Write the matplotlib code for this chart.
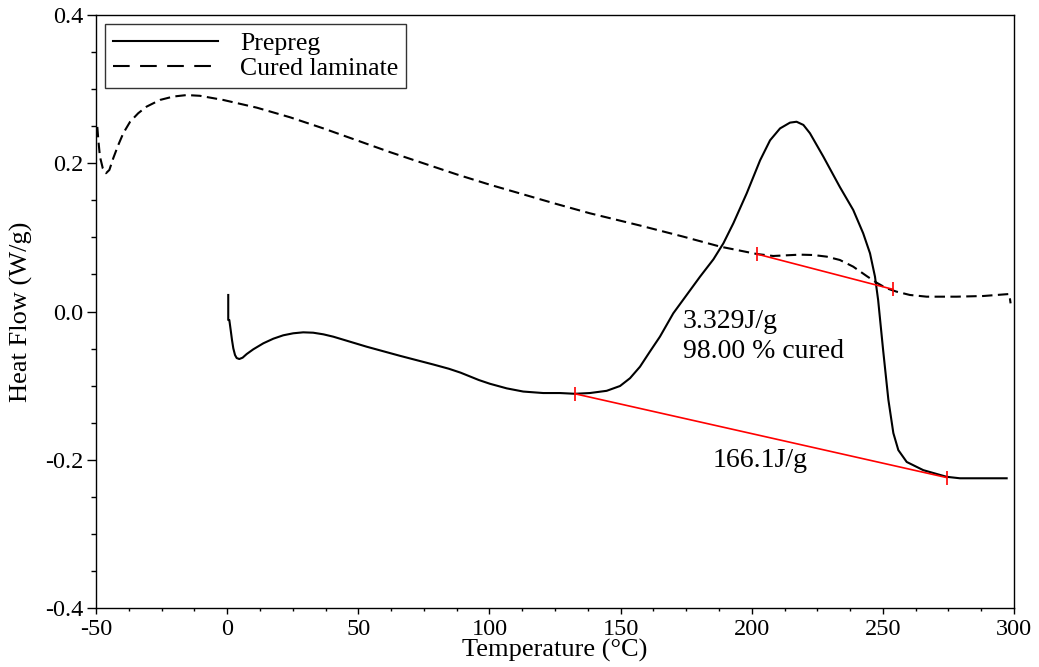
import matplotlib
matplotlib.use("Agg")
import matplotlib.pyplot as plt
from matplotlib.lines import Line2D
from matplotlib.ticker import MultipleLocator

plt.rcParams['font.family'] = ['Liberation Serif', 'DejaVu Serif']

# DSC traces: temperature (°C) and heat flow (W/g)
prepreg_T = [0.42, 0.42, 0.83, 1.35, 1.85, 2.35, 3.0, 3.64, 4.63, 5.9, 7.45, 9.97,
             13.8, 17.6, 21.4, 25.2, 29.0, 32.8, 36.7, 40.5, 53.2, 65.9, 78.6, 84.5,
             89.0, 92.5, 96.0, 100.2, 106.6, 112.9, 120.5, 126.9, 132.6, 138.3, 144.7,
             149.8, 153.6, 157.4, 161.2, 165.0, 170.1, 175.2, 180.3, 185.4, 189.2,
             193.0, 198.1, 203.2, 207.0, 210.8, 214.6, 217.1, 219.7, 222.2, 227.3,
             233.6, 238.7, 242.5, 245.1, 247.0, 248.2, 250.1, 252.1, 254.0, 255.9,
             259.1, 265.4, 274.3, 279.4, 297.2]
prepreg_HF = [0.0223, -0.0115, -0.0115, -0.025, -0.0385, -0.0497, -0.0587, -0.0628,
              -0.0641, -0.0623, -0.0574, -0.051, -0.0429, -0.0367, -0.0321, -0.0294,
              -0.0281, -0.0286, -0.0308, -0.034, -0.0475, -0.0598, -0.0715, -0.0772,
              -0.0825, -0.0875, -0.0925, -0.0975, -0.1037, -0.108, -0.110, -0.110,
              -0.111, -0.110, -0.107, -0.1005, -0.090, -0.0745, -0.054, -0.034, -0.0024,
              0.0223, 0.047, 0.0704, 0.092, 0.119, 0.1595, 0.204, 0.231, 0.247, 0.2548,
              0.256, 0.2517, 0.2405, 0.209, 0.168, 0.137, 0.1055, 0.0785, 0.047, 0.0155,
              -0.052, -0.119, -0.164, -0.187, -0.203, -0.214, -0.223, -0.225, -0.225]

cured_T = [-49.5, -49.1, -48.5, -47.4, -46.2, -44.9, -43.4, -41.5, -39.6, -37.0, -33.9,
           -30.7, -25.6, -20.5, -15.4, -10.4, -1.5, 11.3, 24.0, 36.7, 49.4, 62.1, 74.8,
           87.5, 100.2, 112.9, 125.6, 138.3, 157.4, 173.9, 188.0, 201.9, 208.2, 213.3,
           218.4, 223.5, 228.6, 233.6, 238.7, 243.8, 247.6, 251.4, 255.3, 260.3, 266.7,
           278.1, 288.3, 298.2, 298.7]
cured_HF = [0.249, 0.231, 0.209, 0.193, 0.1865, 0.191, 0.207, 0.2247, 0.2405, 0.256,
            0.2675, 0.2764, 0.2854, 0.290, 0.292, 0.291, 0.2854, 0.275, 0.262, 0.247,
            0.231, 0.215, 0.200, 0.185, 0.171, 0.158, 0.145, 0.1325, 0.116, 0.101,
            0.0875, 0.0776, 0.0749, 0.0758, 0.0767, 0.0762, 0.074, 0.0695, 0.0605,
            0.0479, 0.0389, 0.0313, 0.0267, 0.0223, 0.020, 0.020, 0.0209, 0.0236, 0.011]

# Integration baselines
base_prepreg_T = [132.6, 274.3]
base_prepreg_HF = [-0.111, -0.224]
base_cured_T = [201.9, 253.7]
base_cured_HF = [0.0776, 0.030]

x_ticks = [-50, 0, 50, 100, 150, 200, 250, 300]
y_ticks = [-0.4, -0.2, 0.0, 0.2, 0.4]

fig = plt.figure(figsize=(10.39, 6.67), dpi=100)
ax = fig.add_axes([96 / 1039, 59 / 667, 918 / 1039, 593 / 667])

ax.plot(prepreg_T, prepreg_HF, color='black', lw=1.5)
ax.plot(cured_T, cured_HF, color='black', lw=1.5, ls=(0, (5, 2.6)))

for bx, by in [(base_prepreg_T, base_prepreg_HF), (base_cured_T, base_cured_HF)]:
    ax.plot(bx, by, color='red', lw=1.2, marker='|', markersize=10, mew=1.2)

ax.text(173.8, -0.0223, '3.329J/g', fontsize=20, va='baseline', ha='left')
ax.text(173.8, -0.0627, '98.00 % cured', fontsize=20, va='baseline', ha='left')
ax.text(185.2, -0.210, '166.1J/g', fontsize=20, va='baseline', ha='left')

ax.set_xlim(-50, 300)
ax.set_ylim(-0.4, 0.4)
ax.set_xticks(x_ticks)
ax.set_xticklabels([str(v) for v in x_ticks])
ax.set_yticks(y_ticks)
ax.set_yticklabels(['%.1f' % v for v in y_ticks])
ax.xaxis.set_minor_locator(MultipleLocator(12.5))
ax.yaxis.set_minor_locator(MultipleLocator(0.05))
ax.tick_params(which='both', direction='out', top=False, right=False, width=1.0)
ax.tick_params(which='major', labelsize=17.5)
ax.tick_params(axis='x', which='major', length=4.5, pad=3.5)
ax.tick_params(axis='x', which='minor', length=2.2)
ax.tick_params(axis='y', which='major', length=6.5, pad=2.5)
ax.tick_params(axis='y', which='minor', length=3.6)
for s in ax.spines.values():
    s.set_linewidth(1.0)

ax.set_xlabel('Temperature (°C)', fontsize=19)
ax.set_ylabel('Heat Flow (W/g)', fontsize=19)
ax.xaxis.set_label_coords(0.5, -0.052)
ax.yaxis.set_label_coords(-0.069, 0.5)

handles = [Line2D([], [], color='black', lw=1.5),
           Line2D([], [], color='black', lw=1.5, ls=(0, (8, 5)))]
leg = ax.legend(handles, ['Prepreg', 'Cured laminate'], loc='upper left',
                bbox_to_anchor=(9 / 918, 1 - 9 / 593), borderaxespad=0,
                fontsize=18.5, frameon=True, fancybox=False, handlelength=4.1,
                handletextpad=0.85, borderpad=0.3, labelspacing=0.1)
leg.get_frame().set_edgecolor('black')
leg.get_frame().set_linewidth(1.0)

fig.savefig('out.png', dpi=100)
